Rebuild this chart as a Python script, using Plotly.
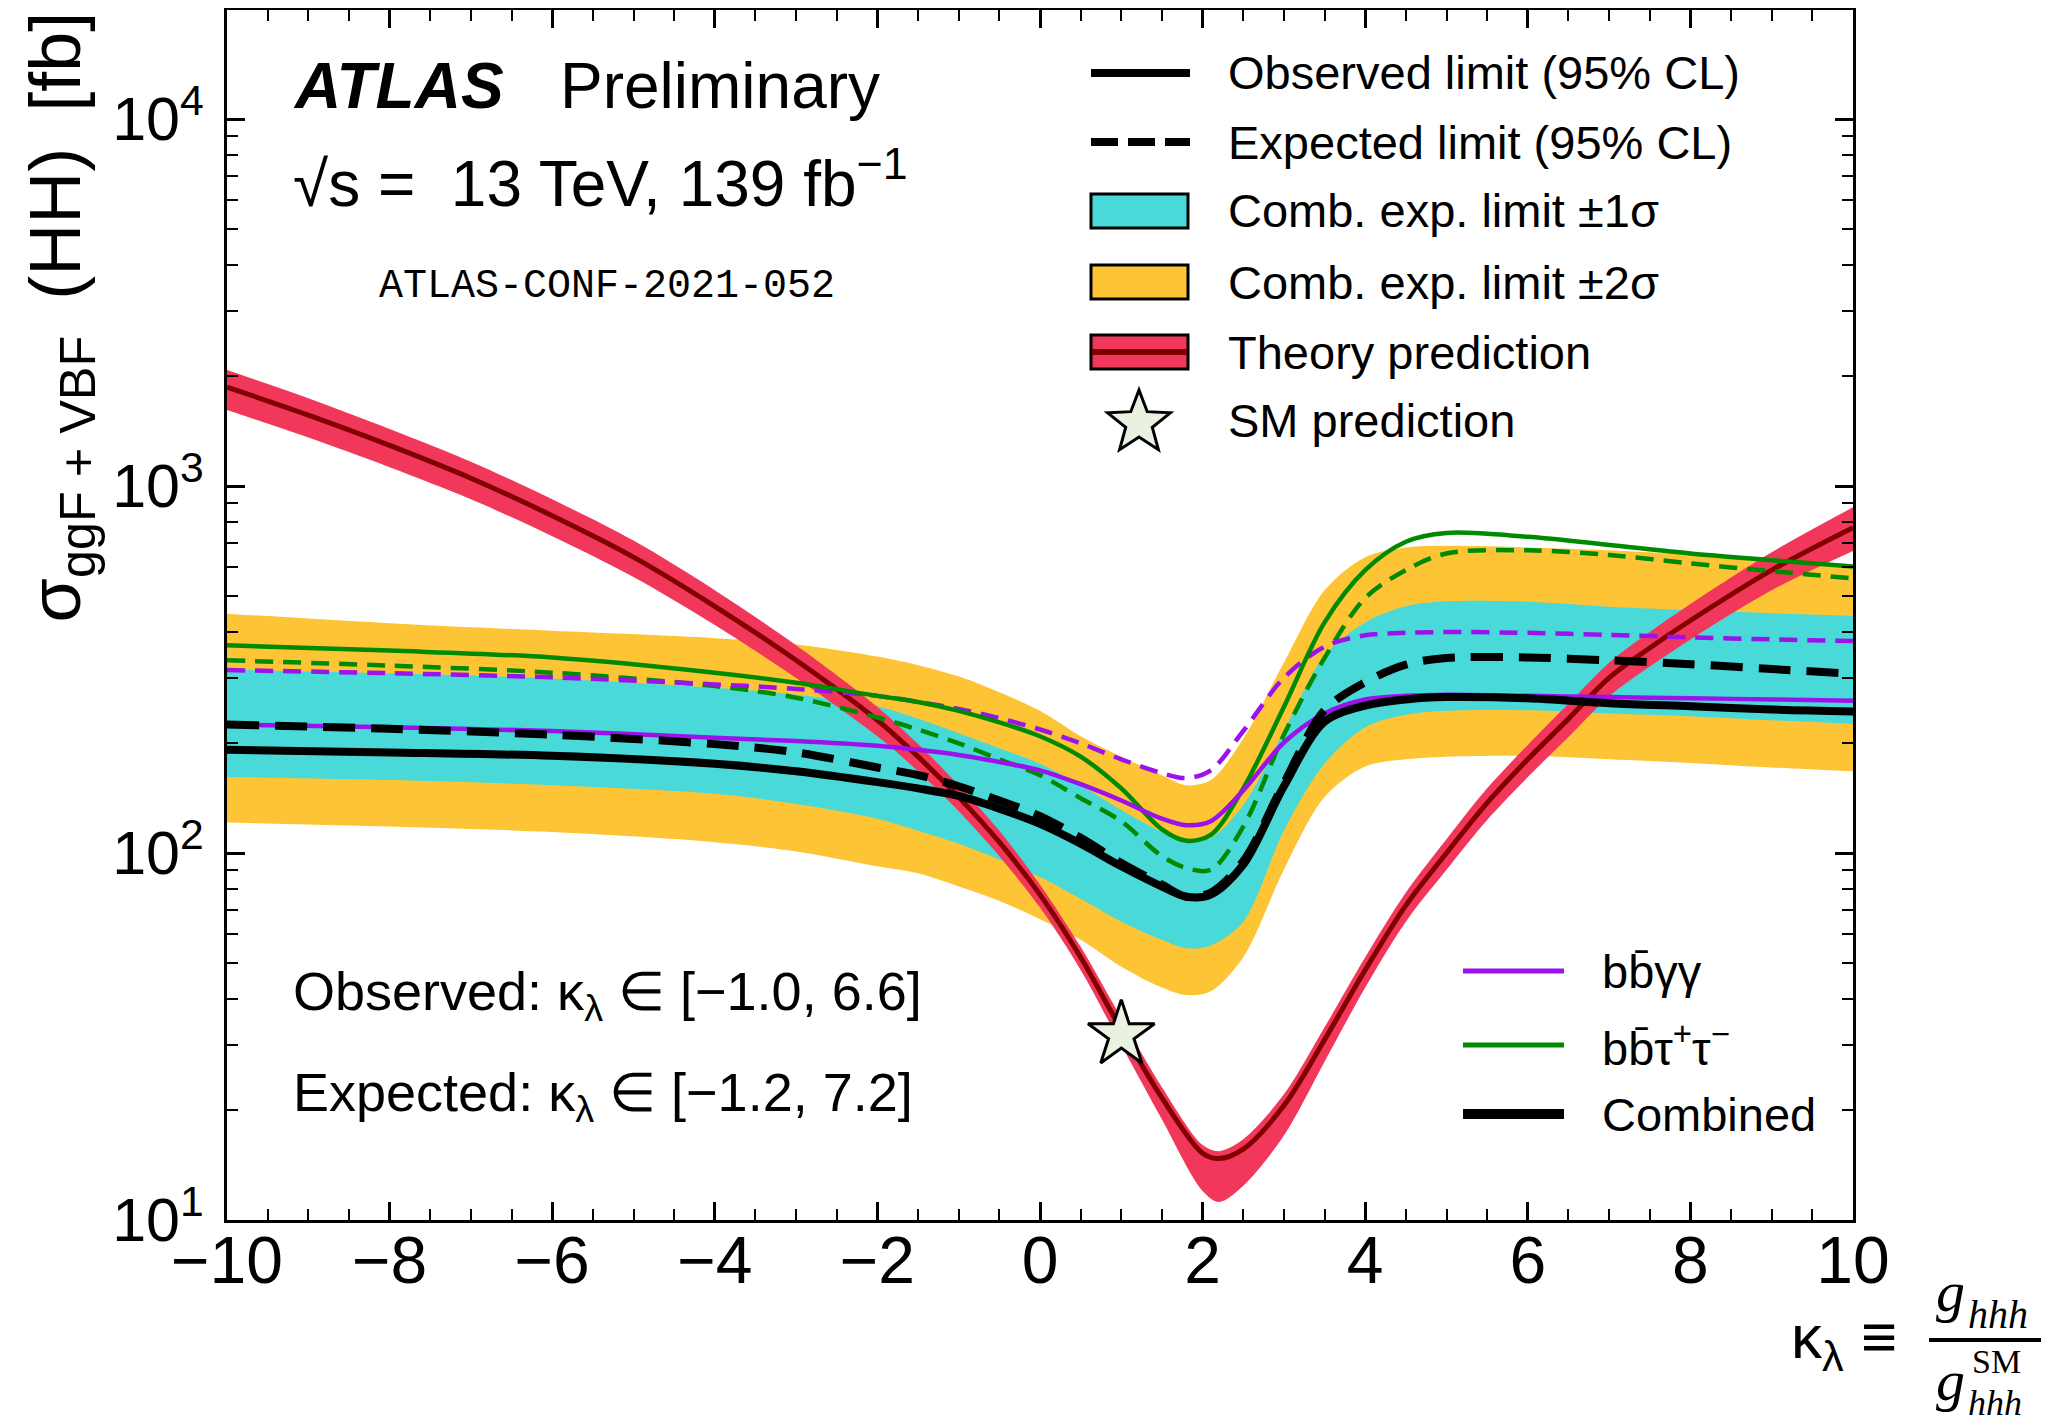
import math
import plotly.graph_objects as go

# ---------------- data ----------------
kappa = [-10, -8, -6, -4, -3, -2, -1.5, -1, -0.5, 0, 0.5, 1, 1.5, 1.8, 2.1, 2.5, 3, 3.5, 4, 4.5, 5, 6, 7, 8, 9, 10]
obs_comb = [191, 188, 184, 175, 167, 156, 150, 143, 132, 120, 106, 92, 81, 76, 77, 93, 152, 228, 252, 262, 266, 264, 256, 251, 246, 243]
exp_comb = [224, 218, 210, 198, 188, 171, 163, 152, 139, 126, 110, 94, 82, 76, 78, 95, 155, 245, 292, 326, 340, 341, 335, 327, 317, 308]
one_sig_up = [316, 309, 299, 282, 270, 251, 232, 212, 193, 175, 153, 131, 114, 107, 110, 135, 215, 345, 425, 470, 485, 484, 469, 459, 450, 443]
one_sig_dn = [161, 158, 153, 145, 136, 124, 115, 106, 96, 86, 75, 65, 58, 55, 56, 65, 115, 175, 220, 238, 244, 245, 240, 236, 230, 225]
two_sig_up = [449, 423, 403, 385, 370, 343, 325, 303, 274, 244, 208, 183, 163, 153, 158, 205, 330, 520, 640, 680, 687, 680, 668, 650, 630, 610]
two_sig_dn = [121, 118, 114, 107, 101, 92, 88, 81, 74, 66, 58, 49, 43, 41, 42, 52, 90, 142, 172, 180, 183, 184, 180, 176, 171, 167]
bbyy_obs = [224, 220, 215, 206, 202, 196, 191, 185, 177, 168, 154, 139, 124, 119, 122, 148, 200, 240, 262, 268, 270, 268, 266, 264, 262, 260]
bbyy_exp = [315, 309, 301, 288, 280, 268, 258, 247, 233, 217, 199, 180, 165, 160, 168, 215, 300, 365, 392, 398, 400, 398, 393, 387, 382, 378]
bbtt_obs = [368, 356, 341, 310, 291, 268, 258, 244, 227, 208, 183, 150, 116, 108, 112, 150, 250, 425, 590, 705, 745, 727, 691, 655, 628, 603]
bbtt_exp = [335, 324, 310, 285, 265, 234, 217, 199, 180, 163, 141, 122, 98, 91, 90, 118, 210, 340, 495, 590, 655, 668, 649, 615, 586, 560]

kappa_th = [-10, -9, -8, -7, -6, -5, -4, -3, -2, -1.5, -1, -0.5, 0, 0.5, 1, 1.5, 2, 2.2, 2.5, 3, 3.5, 4, 4.5, 5, 5.5, 6, 6.5, 7, 7.5, 8, 9, 10]
theory = [1860, 1560, 1290, 1050, 830, 640, 470, 335, 230, 183, 142, 107, 77, 52, 33, 21.5, 15.2, 14.7, 15.6, 20.5, 31, 48, 72, 100, 137, 180, 232, 300, 362, 430, 590, 770]
theory_up = [2070, 1735, 1430, 1165, 920, 710, 520, 368, 250, 198, 153, 115, 82, 55.5, 35.5, 23, 16, 15.4, 16.6, 22, 33.5, 52, 78, 109, 150, 197, 255, 330, 400, 477, 660, 875]
theory_dn = [1610, 1355, 1125, 920, 730, 565, 418, 300, 208, 167, 130, 98, 71, 48, 30, 18.8, 12, 11.2, 12.4, 17, 27, 43, 65, 90, 123, 161, 207, 267, 322, 382, 520, 665]

sm_kappa = [1]
sm_xsec = [32]

x_ticks = [-10, -8, -6, -4, -2, 0, 2, 4, 6, 8, 10]
y_ticks = [10, 100, 1000, 10000]
y_ticktext = ["10<sup>1</sup>", "10<sup>2</sup>", "10<sup>3</sup>", "10<sup>4</sup>"]
y_minor = [m * 10 ** e for e in range(1, 5) for m in range(2, 10) if m * 10 ** e < 20000]

legend_main = ["Observed limit (95% CL)", "Expected limit (95% CL)", "Comb. exp. limit ±1σ",
               "Comb. exp. limit ±2σ", "Theory prediction", "SM prediction"]
legend_chan = ["bb\u0304γγ", "bb\u0304τ<sup>+</sup>τ<sup>−</sup>", "Combined"]

# ---------------- styles ----------------
FONT = "Liberation Sans, Arial, Helvetica, sans-serif"
SERIF = "Liberation Serif, Times New Roman, serif"
MONO = "Liberation Mono, Courier New, monospace"
C_YEL = "#FDC536"
C_CYAN = "#4AD9D9"
C_TH = "#F2385A"
C_THL = "#820000"
C_PUR = "#9B12EB"
C_GRN = "#008A00"
C_STAR = "#E9F1E1"

# the page body has an 8 px margin, so the figure is made 8 px smaller
OFF = 8
W, H = 2061 - OFF, 1426 - OFF
PL, PR, PT, PB = 227, 1853, 10, 1220          # plot area in window pixels
L, T = PL - OFF, PT - OFF
R, B = W + OFF - PR, H + OFF - PB
PW = PR - PL
PH = PB - PT


def px(x):
    return (x - PL) / PW


def py(y):
    return (PB - y) / PH


fig = go.Figure()
SM = 0.9


def band(x, lo, hi, color):
    fig.add_trace(go.Scatter(x=x, y=lo, mode="lines", hoverinfo="skip", showlegend=False,
                             line=dict(width=0, color=color, shape="spline", smoothing=SM)))
    fig.add_trace(go.Scatter(x=x, y=hi, mode="lines", hoverinfo="skip", showlegend=False,
                             fill="tonexty", fillcolor=color,
                             line=dict(width=0, color=color, shape="spline", smoothing=SM)))


def curve(x, y, color, width, dash="solid"):
    fig.add_trace(go.Scatter(x=x, y=y, mode="lines", showlegend=False,
                             line=dict(color=color, width=width, dash=dash, shape="spline", smoothing=SM)))


band(kappa, two_sig_dn, two_sig_up, C_YEL)
band(kappa, one_sig_dn, one_sig_up, C_CYAN)
band(kappa_th, theory_dn, theory_up, C_TH)
curve(kappa_th, theory, C_THL, 5)
curve(kappa, bbtt_exp, C_GRN, 4.5, "18px,10px")
curve(kappa, bbyy_exp, C_PUR, 4.5, "18px,10px")
curve(kappa, bbtt_obs, C_GRN, 4.5)
curve(kappa, bbyy_obs, C_PUR, 4.5)
curve(kappa, exp_comb, "black", 8, "32px,16px")
curve(kappa, obs_comb, "black", 8)
fig.add_trace(go.Scatter(x=sm_kappa, y=sm_xsec, mode="markers", showlegend=False,
                         marker=dict(symbol="star", size=50, color=C_STAR,
                                     line=dict(color="black", width=3))))

fig.update_layout(
    width=W, height=H, margin=dict(l=L, r=R, t=T, b=B, autoexpand=False),
    paper_bgcolor="white", plot_bgcolor="white",
    font=dict(family=FONT, color="black"), showlegend=False,
    xaxis=dict(range=[-10, 10], tickmode="array", tickvals=x_ticks, ticks="inside",
               ticklen=18, tickwidth=3, tickcolor="black", showline=True, linewidth=3,
               linecolor="black", mirror="allticks", showgrid=False, zeroline=False,
               tickfont=dict(size=66, family=FONT), ticklabelstandoff=-19,
               minor=dict(ticks="inside", tick0=-10, dtick=0.5, ticklen=11, tickwidth=2,
                          tickcolor="black", showgrid=False)),
    yaxis=dict(type="log", range=[1, 4.297], tickmode="array", tickvals=y_ticks,
               ticktext=y_ticktext, ticks="inside", ticklen=18, tickwidth=3, tickcolor="black",
               showline=True, linewidth=3, linecolor="black", mirror="allticks",
               showgrid=False, zeroline=False, tickfont=dict(size=61, family=FONT),
               ticklabelstandoff=8,
               minor=dict(tickmode="array", tickvals=y_minor, ticks="inside", ticklen=11,
                          tickwidth=2, tickcolor="black", showgrid=False)),
)


def txt(text, x, y, size, xanchor="left", family=FONT, **kw):
    fig.add_annotation(text=text, x=px(x), y=py(y), xref="paper", yref="paper",
                       xanchor=xanchor, yanchor="middle", showarrow=False, borderpad=0,
                       font=dict(size=size, family=family, color="black"), **kw)


def hline(x0, x1, y, color, width, dash="solid"):
    fig.add_shape(type="line", xref="paper", yref="paper", x0=px(x0), x1=px(x1),
                  y0=py(y), y1=py(y), line=dict(color=color, width=width, dash=dash))


def box(x0, x1, yc, fill):
    fig.add_shape(type="rect", xref="paper", yref="paper", x0=px(x0), x1=px(x1),
                  y0=py(yc - 17), y1=py(yc + 17), fillcolor=fill,
                  line=dict(color="black", width=3))


def star(cx, cy, ro, ri):
    pts = []
    for k in range(10):
        a = math.radians(-90 + 36 * k)
        r = ro if k % 2 == 0 else ri
        pts.append((px(cx + r * math.cos(a)), py(cy + r * math.sin(a))))
    path = "M " + " L ".join(f"{x:.5f},{y:.5f}" for x, y in pts) + " Z"
    fig.add_shape(type="path", xref="paper", yref="paper", path=path, fillcolor=C_STAR,
                  line=dict(color="black", width=3))


# header texts
txt("<b><i>ATLAS</i></b>", 292, 86, 64)
txt("Preliminary", 559, 86, 64)
txt("√s = \u00a013 TeV, 139 fb<sup>−1</sup>", 292, 179, 64)
txt("ATLAS-CONF-2021-052", 607, 287, 40, xanchor="center", family=MONO)

# interval texts
txt("Observed: κ<sub>λ</sub> ∈ [−1.0, 6.6]", 292, 995, 54)
txt("Expected: κ<sub>λ</sub> ∈ [−1.2, 7.2]", 292, 1096, 54)

# main legend
rows = [73, 142, 211, 282, 352, 421]
hline(1091, 1190, rows[0], "black", 8)
hline(1091, 1190, rows[1], "black", 8, "27px,10px")
box(1091, 1188, rows[2], C_CYAN)
box(1091, 1188, rows[3], C_YEL)
box(1091, 1188, rows[4], C_TH)
hline(1092, 1187, rows[4], C_THL, 6)
star(1139, rows[5] + 2, 33, 14)
for label, yr in zip(legend_main, rows):
    txt(label, 1227, yr, 47)

# channel legend
rows2 = [971, 1045, 1114]
hline(1463, 1564, rows2[0], C_PUR, 5)
hline(1463, 1564, rows2[1], C_GRN, 5)
hline(1463, 1564, rows2[2], "black", 10)
for label, yr in zip(legend_chan, rows2):
    txt(label, 1601, yr, 47)

# y axis title (aligned to the top of the axis)
fig.add_annotation(text="σ<sub>ggF + VBF</sub>\u2002(HH)\u2002[fb]", x=px(60), y=py(10),
                   xref="paper", yref="paper", xanchor="center", yanchor="top",
                   textangle=-90, showarrow=False,
                   font=dict(size=72, family=FONT, color="black"))

# x axis title: kappa_lambda = g_hhh / g_hhh^SM
txt("κ<sub>λ</sub> ≡", 1790, 1341, 62)
txt("<i>g</i>", 1950, 1291, 58, xanchor="center", family=SERIF)
txt("<i>hhh</i>", 1967, 1314, 40, family=SERIF)
hline(1929, 2041, 1340, "black", 4)
txt("<i>g</i>", 1950, 1380, 58, xanchor="center", family=SERIF)
txt("SM", 1971, 1361, 34, family=SERIF)
txt("<i>hhh</i>", 1967, 1403, 36, family=SERIF)

fig.write_html("out.html")
